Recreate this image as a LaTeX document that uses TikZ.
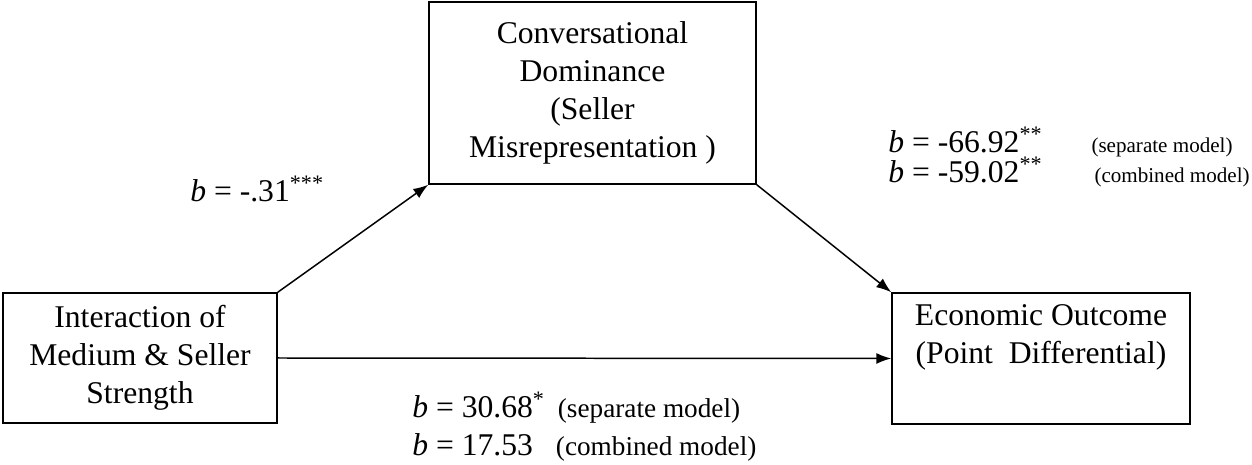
\documentclass[tikz,border=0pt]{standalone}
\usepackage{fontspec}
\setmainfont{Liberation Serif}
\usetikzlibrary{arrows.meta}
\tikzset{
	every node/.style={
			font=\fontsize{18}{21.6}\selectfont
		},
	varbox/.style={
			draw, line width=0.85pt, align=center, inner sep=0pt
		},
	coef/.style={
			anchor=base west, inner sep=0pt
		},
	link/.style={
			-{Latex[length=0.3cm, width=0.22cm]}, line width=0.85pt
		}
}
\newcommand{\modeltext}[1]{{\fontsize{12}{14}\selectfont #1}}
\newcommand{\modeltextlow}[1]{{\fontsize{15.5}{18}\selectfont #1}}

\begin{document}
\begin{tikzpicture}[x=0.02cm, y=-0.02cm]
			\useasboundingbox (0, 0) rectangle (1252, 465);

			\node[varbox, minimum width=5.48cm, minimum height=2.6cm] (inter) at (140, 358)
								{Interaction of\\Medium \& Seller\\Strength};
			\node[varbox, minimum width=6.54cm, minimum height=3.64cm] (dom) at (592.5, 93)
								{Conversational\\Dominance\\(Seller\\Misrepresentation )};
			\node[varbox, minimum width=5.96cm, minimum height=2.62cm] (outcome) at (1041, 358.5)
								{Economic Outcome\\(Point\ \ Differential)\\\strut};

			\draw[link]	(inter.north east) to (dom.south west);
			\draw[link]	(dom.south east) to (outcome.north west);
			\draw[link]	(inter.east) to (outcome.west);

			\node[coef] (coefa) at (190, 202) {\textit{b} = -.31\textsuperscript{***}};
			\node[coef] (coefbsep) at (888, 153)
								{\textit{b} = -66.92\textsuperscript{**}\hspace{0.98cm}\modeltext{(separate model)}};
			\node[coef] (coefbcomb) at (888, 183)
								{\textit{b} = -59.02\textsuperscript{**}\hspace{1.04cm}\modeltext{(combined model)}};
			\node[coef] (coefcsep) at (412, 418)
								{\textit{b} = 30.68\textsuperscript{*}\hspace{0.26cm}\modeltextlow{(separate model)}};
			\node[coef] (coefccomb) at (412, 456)
								{\textit{b} = 17.53\hspace{0.46cm}\modeltextlow{(combined model)}};
		\end{tikzpicture}
\end{document}
